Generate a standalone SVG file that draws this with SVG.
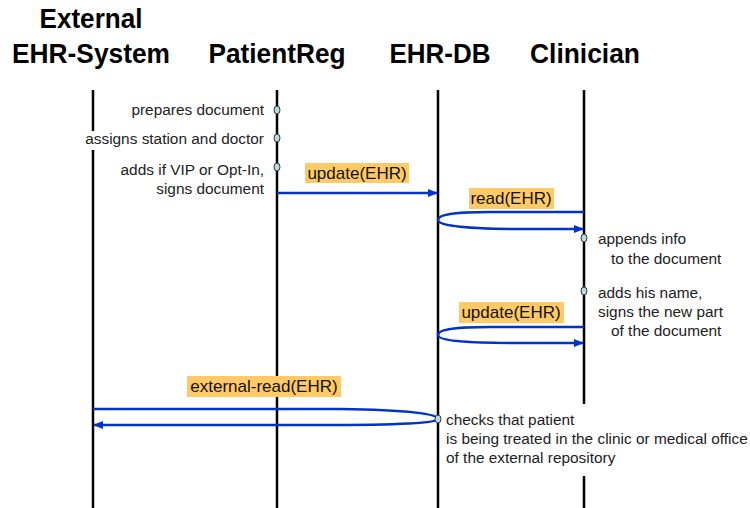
<svg xmlns="http://www.w3.org/2000/svg" width="750" height="508" viewBox="0 0 750 508">
  <style>
    .title { font-family: "Liberation Sans", Arial, sans-serif; font-size: 28px; font-weight: bold; fill: #000; text-anchor: middle; }
    .note { font-family: "Liberation Sans", Arial, sans-serif; font-size: 15.4px; fill: #222; }
    .msg { font-family: "Liberation Sans", Arial, sans-serif; font-size: 17px; fill: #111; text-anchor: middle; }
    .life { stroke: #000; stroke-width: 2.5; fill: none; }
    .flow { stroke: #0033cc; stroke-width: 2.5; fill: none; }
    .tag { fill: #ffc966; }
    .dot { fill: #b8dcdc; stroke: #334; stroke-width: 1; }
    .mask { fill: #fff; }
  </style>
  <defs>
    <marker id="arrow" viewBox="0 0 10 8" refX="9" refY="4" markerWidth="10" markerHeight="8" markerUnits="userSpaceOnUse" orient="auto">
      <path d="M0,0 L10,4 L0,8 Z" fill="#0033cc"/>
    </marker>
  </defs>
  <rect width="750" height="508" fill="#fff"/>

  <!-- participants with their lifelines -->
  <g id="external-ehr-system">
    <text class="title" x="91" y="28" textLength="103" lengthAdjust="spacingAndGlyphs">External</text>
    <text class="title" x="91" y="63" textLength="158" lengthAdjust="spacingAndGlyphs">EHR-System</text>
    <line class="life" x1="93" y1="90" x2="93" y2="508"/>
  </g>
  <g id="patientreg">
    <text class="title" x="277" y="63" textLength="137" lengthAdjust="spacingAndGlyphs">PatientReg</text>
    <line class="life" x1="277" y1="90" x2="277" y2="508"/>
  </g>
  <g id="ehr-db">
    <text class="title" x="440" y="63" textLength="101" lengthAdjust="spacingAndGlyphs">EHR-DB</text>
    <line class="life" x1="438" y1="90" x2="438" y2="508"/>
  </g>
  <g id="clinician">
    <text class="title" x="585" y="63" textLength="110" lengthAdjust="spacingAndGlyphs">Clinician</text>
    <line class="life" x1="584" y1="90" x2="584" y2="508"/>
  </g>

  <!-- messages -->
  <g id="connectors">
    <path class="flow" d="M277,193 L437,193" marker-end="url(#arrow)"/>
    <path class="flow" d="M584,212 L490,212 C450,212 438,215 438,220 C438,226 470,229 520,229 L583,229" marker-end="url(#arrow)"/>
    <path class="flow" d="M584,327 L490,327 C450,327 438,330 438,335 C438,341 470,343 520,343 L583,343" marker-end="url(#arrow)"/>
    <path class="flow" d="M93,409 L340,409 C410,410 438,414 438,419 C438,423 400,425 320,425 L94,425" marker-end="url(#arrow)"/>
  </g>

  <!-- message labels -->
  <g id="label-update-1">
    <rect class="tag" x="305" y="163" width="104" height="20"/>
    <text class="msg" x="357" y="179">update(EHR)</text>
  </g>
  <g id="label-read">
    <rect class="tag" x="469" y="188" width="85" height="21"/>
    <text class="msg" x="511" y="204">read(EHR)</text>
  </g>
  <g id="label-update-2">
    <rect class="tag" x="459" y="302" width="105" height="21"/>
    <text class="msg" x="511" y="318">update(EHR)</text>
  </g>
  <g id="label-external-read">
    <rect class="tag" x="187" y="376" width="154" height="21"/>
    <text class="msg" x="264" y="392">external-read(EHR)</text>
  </g>

  <!-- activity notes on PatientReg -->
  <g id="note-prepares">
    <text class="note" x="264" y="115" text-anchor="end">prepares document</text>
    <ellipse class="dot" cx="277" cy="110" rx="3" ry="4"/>
  </g>
  <g id="note-assigns">
    <rect class="mask" x="82" y="131" width="184" height="19"/>
    <text class="note" x="264" y="144" text-anchor="end">assigns station and doctor</text>
    <ellipse class="dot" cx="277" cy="138" rx="3" ry="4"/>
  </g>
  <g id="note-adds-vip">
    <text class="note" x="264" y="175" text-anchor="end">adds if VIP or Opt-In,</text>
    <text class="note" x="264" y="194" text-anchor="end">signs document</text>
    <ellipse class="dot" cx="277" cy="167" rx="3" ry="4"/>
  </g>

  <!-- activity notes on Clinician -->
  <g id="note-appends">
    <ellipse class="dot" cx="584" cy="238" rx="3" ry="4"/>
    <text class="note" x="598" y="244">appends info</text>
    <text class="note" x="611" y="264">to the document</text>
  </g>
  <g id="note-signs">
    <ellipse class="dot" cx="584" cy="291" rx="3" ry="4"/>
    <text class="note" x="598" y="298">adds his name,</text>
    <text class="note" x="598" y="317">signs the new part</text>
    <text class="note" x="611" y="336">of the document</text>
  </g>

  <!-- activity note on EHR-DB -->
  <g id="note-checks">
    <rect class="mask" x="444" y="404" width="306" height="72"/>
    <ellipse class="dot" cx="438" cy="419" rx="3" ry="4"/>
    <text class="note" x="446" y="425">checks that patient</text>
    <text class="note" x="446" y="444">is being treated in the clinic or medical office</text>
    <text class="note" x="446" y="463">of the external repository</text>
  </g>
</svg>
